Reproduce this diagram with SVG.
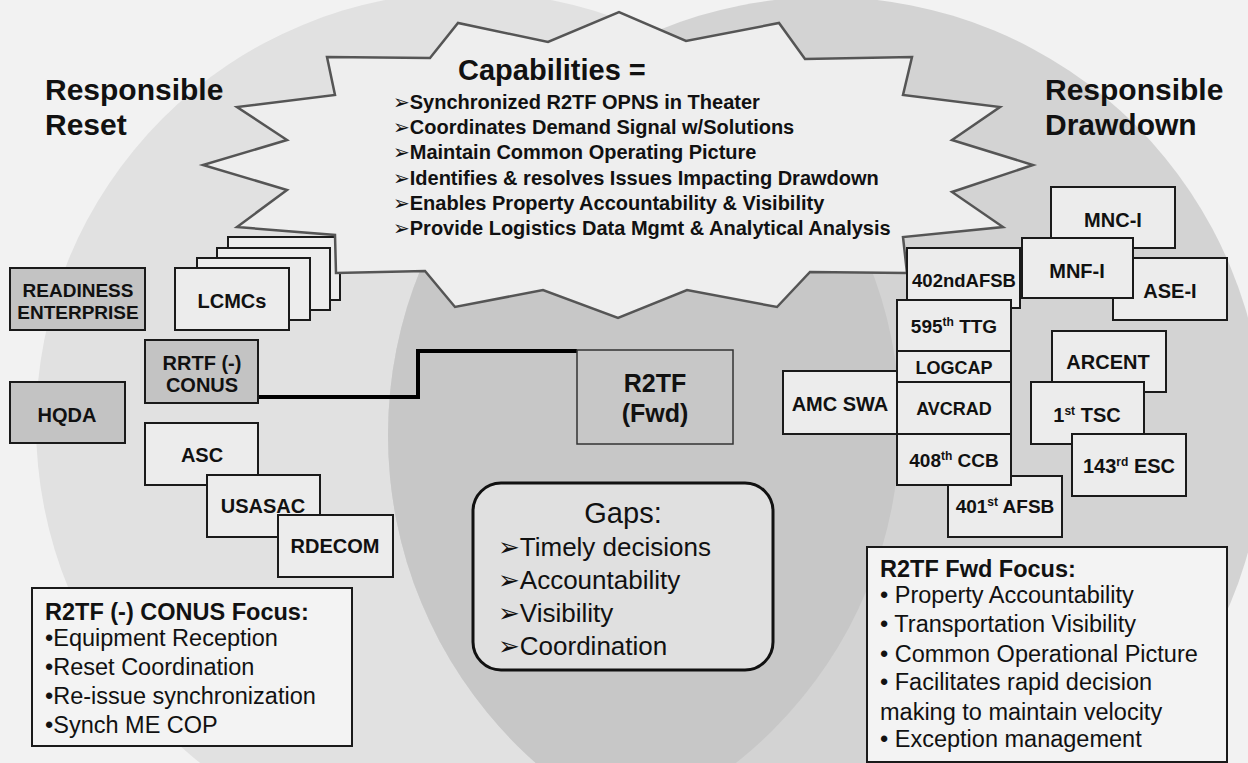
<svg xmlns="http://www.w3.org/2000/svg" width="1248" height="763" viewBox="0 0 1248 763">
<defs>
<style>
.bx{stroke:#1a1a1a;stroke-width:2;}
.lt{fill:#ececec;}
.dk{fill:#c3c3c3;}
.lb{font-family:"Liberation Sans","DejaVu Sans",sans-serif;font-weight:bold;font-size:20px;fill:#111;text-anchor:middle;}
.hd{font-family:"Liberation Sans","DejaVu Sans",sans-serif;font-weight:bold;font-size:30px;fill:#111;}
.cap{font-family:"Liberation Sans","DejaVu Sans",sans-serif;font-weight:bold;font-size:20px;fill:#111;}
.fc{font-family:"Liberation Sans","DejaVu Sans",sans-serif;font-size:23.5px;fill:#111;}
.gp{font-family:"Liberation Sans","DejaVu Sans",sans-serif;font-size:26px;fill:#111;}
.sp{font-size:12px;}
</style>
<clipPath id="lc"><circle cx="468" cy="424" r="432"/></clipPath>
</defs>

<g id="background">
<rect width="1248" height="763" fill="#f2f2f2"/>
<circle cx="468" cy="424" r="432" fill="#e1e1e1"/>
<circle cx="826" cy="435" r="438" fill="#d3d3d3"/>
<circle cx="826" cy="435" r="438" fill="#c7c7c7" clip-path="url(#lc)"/>
</g>

<g id="titles">
<text class="hd" x="45" y="100">Responsible</text>
<text class="hd" x="45" y="135">Reset</text>
<text class="hd" x="1045" y="100">Responsible</text>
<text class="hd" x="1045" y="135">Drawdown</text>
</g>

<g id="node-readiness">
<rect class="bx dk" x="10" y="268" width="135" height="62"/>
<text class="lb" x="78" y="297" style="font-size:19px">READINESS</text>
<text class="lb" x="78" y="319" style="font-size:19px">ENTERPRISE</text>
</g>

<g id="node-lcmcs">
<rect class="bx lt" x="228" y="237" width="112" height="63"/>
<rect class="bx lt" x="217" y="248" width="113" height="62"/>
<rect class="bx lt" x="197" y="258" width="113" height="62"/>
<rect class="bx lt" x="175" y="268" width="114" height="62"/>
<text class="lb" x="232" y="308">LCMCs</text>
</g>

<g id="node-capabilities">
<polygon points="327,57 430,58 458,23 548,42 619,12 686,41 779,23 805,59 912,57 903,95 1000,107 952,140 1033,165 952,192 1003,227 903,237 907,273 810,272 777,307 687,290 618,318 543,290 455,307 425,271 336,273 335,235 237,227 287,190 203,165 287,140 237,107 335,95" fill="#eeeeee" stroke="#555" stroke-width="2.5"/>
<text class="cap" x="458" y="80" style="font-size:29px">Capabilities =</text>
<text class="cap" x="393" y="109">➢Synchronized R2TF OPNS in Theater</text>
<text class="cap" x="393" y="134">➢Coordinates Demand Signal w/Solutions</text>
<text class="cap" x="393" y="159">➢Maintain Common Operating Picture</text>
<text class="cap" x="393" y="185">➢Identifies &amp; resolves Issues Impacting Drawdown</text>
<text class="cap" x="393" y="210">➢Enables Property Accountability &amp; Visibility</text>
<text class="cap" x="393" y="235">➢Provide Logistics Data Mgmt &amp; Analytical Analysis</text>
</g>

<g id="connectors">
<path d="M258,397 H418 V351 H577" fill="none" stroke="#000" stroke-width="4"/>
</g>

<g id="node-rrtf">
<rect class="bx dk" x="145" y="340" width="113" height="63"/>
<text class="lb" x="202" y="370">RRTF (-)</text>
<text class="lb" x="202" y="392">CONUS</text>
</g>

<g id="node-hqda">
<rect class="bx dk" x="10" y="382" width="115" height="61"/>
<text class="lb" x="67" y="422">HQDA</text>
</g>

<g id="node-asc">
<rect class="bx lt" x="145" y="423" width="113" height="62"/>
<text class="lb" x="202" y="462">ASC</text>
</g>
<g id="node-usasac">
<rect class="bx lt" x="207" y="475" width="113" height="62"/>
<text class="lb" x="263" y="513">USASAC</text>
</g>
<g id="node-rdecom">
<rect class="bx lt" x="278" y="515" width="115" height="62"/>
<text class="lb" x="335" y="553">RDECOM</text>
</g>

<g id="node-conus-focus">
<rect class="bx" x="32" y="588" width="320" height="158" fill="#f3f3f3"/>
<text class="fc" x="45" y="620" style="font-weight:bold">R2TF (-) CONUS Focus:</text>
<text class="fc" x="45" y="646">•Equipment Reception</text>
<text class="fc" x="45" y="675">•Reset Coordination</text>
<text class="fc" x="45" y="704">•Re-issue synchronization</text>
<text class="fc" x="45" y="733">•Synch ME COP</text>
</g>

<g id="node-r2tf-fwd">
<rect x="577" y="350" width="156" height="94" fill="#c7c7c7" stroke="#333" stroke-width="1.5"/>
<text class="lb" x="655" y="392" style="font-size:25px">R2TF</text>
<text class="lb" x="655" y="422" style="font-size:25px">(Fwd)</text>
</g>

<g id="node-gaps">
<rect x="473" y="483" width="300" height="187" rx="28" fill="#e0e0e0" stroke="#111" stroke-width="3"/>
<text class="gp" x="623" y="523" style="font-size:29px;text-anchor:middle">Gaps:</text>
<text class="gp" x="498" y="556">➢Timely decisions</text>
<text class="gp" x="498" y="589">➢Accountability</text>
<text class="gp" x="498" y="622">➢Visibility</text>
<text class="gp" x="498" y="655">➢Coordination</text>
</g>

<g id="node-402nd">
<rect class="bx lt" x="907" y="248" width="113" height="60"/>
<text class="lb" x="964" y="287" style="font-size:18.5px">402ndAFSB</text>
</g>
<g id="node-mnc">
<rect class="bx lt" x="1051" y="187" width="124" height="61"/>
<text class="lb" x="1113" y="227">MNC-I</text>
</g>
<g id="node-ase">
<rect class="bx lt" x="1113" y="258" width="114" height="62"/>
<text class="lb" x="1170" y="298">ASE-I</text>
</g>
<g id="node-mnf">
<rect class="bx lt" x="1022" y="238" width="111" height="60"/>
<text class="lb" x="1077" y="278">MNF-I</text>
</g>
<g id="node-595">
<rect class="bx lt" x="897" y="300" width="114" height="51"/>
<text class="lb" x="954" y="333" style="font-size:19px">595<tspan class="sp" dy="-7">th</tspan><tspan dy="7"> TTG</tspan></text>
</g>
<g id="node-logcap">
<rect class="bx lt" x="897" y="351" width="114" height="31"/>
<text class="lb" x="954" y="374" style="font-size:18px">LOGCAP</text>
</g>
<g id="node-avcrad">
<rect class="bx lt" x="897" y="382" width="114" height="52"/>
<text class="lb" x="954" y="415" style="font-size:18px">AVCRAD</text>
</g>
<g id="node-amcswa">
<rect class="bx lt" x="783" y="371" width="114" height="63"/>
<text class="lb" x="840" y="411">AMC SWA</text>
</g>
<g id="node-401st">
<rect class="bx lt" x="948" y="476" width="114" height="61"/>
<text class="lb" x="1005" y="513" style="font-size:19px">401<tspan class="sp" dy="-7">st</tspan><tspan dy="7"> AFSB</tspan></text>
</g>
<g id="node-408th">
<rect class="bx lt" x="897" y="434" width="114" height="51"/>
<text class="lb" x="954" y="467" style="font-size:19px">408<tspan class="sp" dy="-7">th</tspan><tspan dy="7"> CCB</tspan></text>
</g>
<g id="node-arcent">
<rect class="bx lt" x="1052" y="331" width="114" height="61"/>
<text class="lb" x="1108" y="369">ARCENT</text>
</g>
<g id="node-1sttsc">
<rect class="bx lt" x="1031" y="382" width="113" height="62"/>
<text class="lb" x="1087" y="422">1<tspan class="sp" dy="-7">st</tspan><tspan dy="7"> TSC</tspan></text>
</g>
<g id="node-143rd">
<rect class="bx lt" x="1072" y="434" width="114" height="62"/>
<text class="lb" x="1129" y="473">143<tspan class="sp" dy="-7">rd</tspan><tspan dy="7"> ESC</tspan></text>
</g>

<g id="node-fwd-focus">
<rect class="bx" x="867" y="547" width="360" height="215" fill="#f3f3f3"/>
<text class="fc" x="880" y="577" style="font-weight:bold">R2TF Fwd Focus:</text>
<text class="fc" x="880" y="603">• Property Accountability</text>
<text class="fc" x="880" y="632">• Transportation Visibility</text>
<text class="fc" x="880" y="662">• Common Operational Picture</text>
<text class="fc" x="880" y="690">• Facilitates rapid decision</text>
<text class="fc" x="880" y="720">making to maintain velocity</text>
<text class="fc" x="880" y="747">• Exception management</text>
</g>
</svg>
